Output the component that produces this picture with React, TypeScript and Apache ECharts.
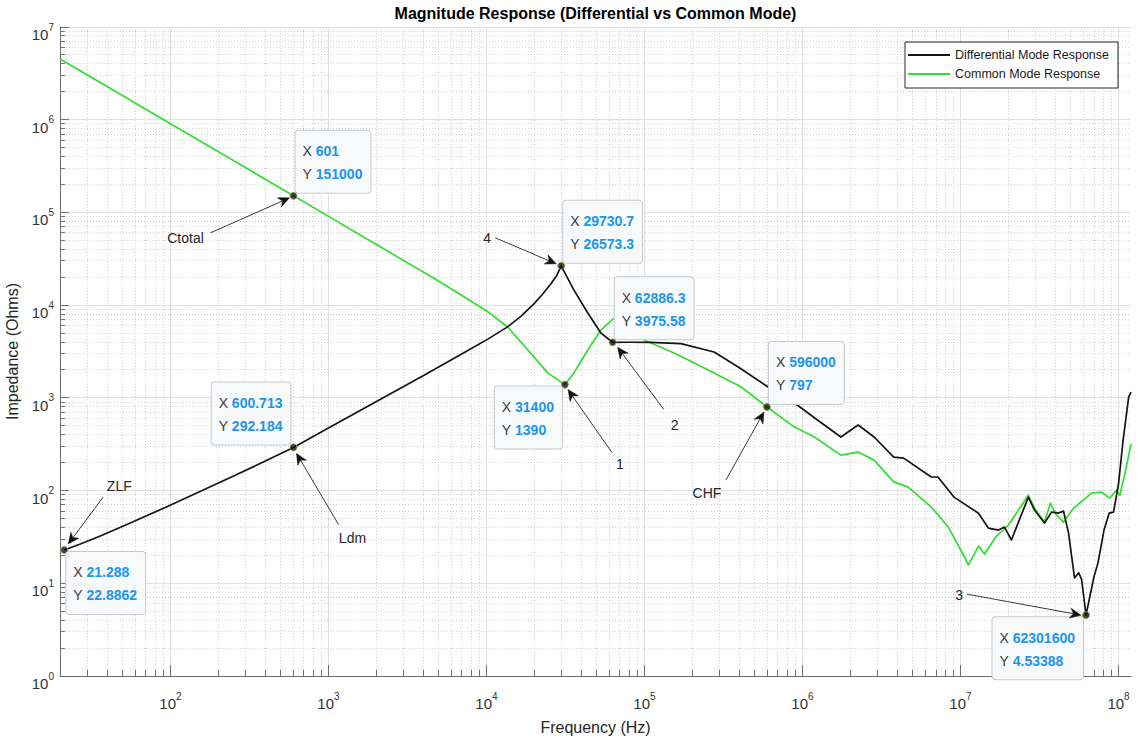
import React, { useEffect, useRef } from 'react';
import * as echarts from 'echarts';

const FONT = "'Liberation Sans', Arial, Helvetica, sans-serif";

// Differential mode response (black)
const DM_FREQ = [
  21.288, 26.9, 36.0, 55.7, 95.7, 155, 251, 372, 600.713, 1000, 2000, 4000, 7620,
  10200, 13600, 16500, 19900, 22500, 25600, 27800, 29730.7, 35700, 43800, 53000, 62886.3, 80000, 110000,
  170000, 276000, 392000, 607000, 890000, 1320000, 1750000, 2250000, 2840000,
  3780000, 4370000, 6530000, 7200000, 9100000, 13000000, 15000000, 17400000,
  19000000, 21000000, 26900000, 29400000, 34000000, 37700000, 41700000, 44900000,
  48300000, 52700000, 56000000, 58400000, 62301600, 69900000, 74100000, 81000000, 87300000,
  93000000, 100000000, 107000000, 116000000, 120000000,
];
const DM_Z = [
  22.8862, 26.5, 32.4, 44.6, 67.4, 98.3, 143.6, 197, 292.184, 472, 908, 1746, 3250,
  4300, 5830, 7570, 10260, 12950, 17000, 20800, 26573.3, 14600, 8220, 5000, 3975.58, 3980, 3960,
  3850, 3120, 2150, 1307, 879, 535, 378, 509, 378,
  230, 224, 140, 140, 85, 57, 39.4, 37.5,
  40.4, 29.3, 85, 61.6, 44.6, 58.6, 57.2, 60,
  34.8, 11.4, 13.0, 11.0, 4.53388, 11.7, 16.5, 37.5, 57.2,
  58.6, 117, 351, 1020, 1150,
];

// Common mode response (green)
const CM_FREQ = [
  20, 50, 100, 200, 601, 1000, 2000, 4650, 7000, 10200, 13600, 18300, 24500, 31400,
  35700, 43800, 53000, 64100, 72000, 85000, 99300, 154000, 253000, 410000, 596000,
  890000, 1190000, 1750000, 2250000, 2840000, 3780000, 4670000, 6530000, 8370000,
  10600000, 11200000, 13000000, 14200000, 16900000, 20100000, 26900000, 29400000,
  34000000, 37100000, 40500000, 44900000, 52000000, 67600000, 78200000, 87900000,
  97300000, 102000000, 111000000, 120000000,
];
const CM_Z = [
  4520000, 1810000, 907000, 453000, 151000, 90700, 45300, 19500, 12700, 8500, 5810, 3280, 1850, 1390,
  1850, 3280, 5390, 7260, 7300, 5500, 4210, 3040, 1995, 1310, 797,
  484, 378, 241, 260, 213, 124, 109, 66.4, 40.4,
  19.2, 15.7, 25.2, 20.7, 32.3, 42.5, 89, 64.7,
  45.7, 73.3, 54.4, 45.7, 64.7, 94, 96, 83,
  101, 89, 166, 320,
];

// Data tips
const TIP_X = [601, 29730.7, 62886.3, 31400, 596000, 600.713, 21.288, 62301600];
const TIP_Y = [151000, 26573.3, 3975.58, 1390, 797, 292.184, 22.8862, 4.53388];
const TIP_X_TEXT = ['601', '29730.7', '62886.3', '31400', '596000', '600.713', '21.288', '62301600'];
const TIP_Y_TEXT = ['151000', '26573.3', '3975.58', '1390', '797', '292.184', '22.8862', '4.53388'];
const TIP_SIDE = ['ur', 'ur', 'ur', 'dl', 'ur', 'ul', 'dr', 'dl'];

// Arrow annotations (one per tip, same order)
const NOTE_TEXT = ['Ctotal', '4', '2', '1', 'CHF', 'Ldm', 'ZLF', '3'];
const NOTE_TEXT_OFF = [[-108, 42], [-74, -28], [62, 83], [55, 79], [-60, 86], [59, 91], [55, -64], [-127, -20]];
const NOTE_TAIL_OFF = [[-83, 37], [-66, -28], [51, 67], [47, 68], [-41, 73], [45, 77], [39, -53], [-119, -21]];
const NOTE_HEAD_OFF = [[-4, 2], [-5, -2], [5, 5], [3, 5], [-3, 5], [3, 6], [4, -6], [-5, 0]];

const X_MIN = 20;
const X_MAX = 1.2e8;
const Y_MIN = 1;
const Y_MAX = 1e7;
const X_DECADES = [1, 2, 3, 4, 5, 6, 7, 8];
const Y_DECADES = [0, 1, 2, 3, 4, 5, 6, 7];
const MINOR_MULTS = [2, 3, 4, 5, 6, 7, 8, 9];

const TICK_COLOR = '#707070';
const LABEL_COLOR = '#333333';
const TIP_FONT_SIZE = 14;
const TIP_PAD = [9, 8, 7, 7];

function supLabel(v: number, lo: number, hi: number) {
  const e = Math.log10(v);
  const n = Math.round(e);
  if (Math.abs(e - n) > 1e-6 || v < lo || v > hi) return '';
  return `{b|10}{e|${n}}`;
}

const labelRich = {
  b: { fontSize: 15, lineHeight: 20, verticalAlign: 'bottom', color: LABEL_COLOR, fontFamily: FONT },
  e: { fontSize: 10, lineHeight: 8, verticalAlign: 'top', color: LABEL_COLOR, fontFamily: FONT },
};

function crisp(v: number) {
  return Math.round(v - 0.5) + 0.5;
}

const gridSeries = {
  type: 'custom',
  silent: true,
  z: 0,
  clip: false,
  data: [[X_MIN, Y_MIN]],
  renderItem: (params: any, api: any) => {
    const cs = params.coordSys;
    const top = cs.y;
    const bottom = cs.y + cs.height;
    const left = cs.x;
    const right = cs.x + cs.width;
    const children: any[] = [];
    const majorGrid = { stroke: '#e0e0e0', lineWidth: 1 };
    const minorGrid = { stroke: '#d2d2d2', lineWidth: 1, lineDash: [1, 2] };
    const tick = { stroke: TICK_COLOR, lineWidth: 1 };
    const vx = (f: number, major: boolean) => {
      const x = crisp(api.coord([f, Y_MIN])[0]);
      children.push({ type: 'line', shape: { x1: x, y1: top, x2: x, y2: bottom }, style: major ? majorGrid : minorGrid });
      children.push({ type: 'line', shape: { x1: x, y1: bottom, x2: x, y2: bottom - (major ? 11 : 6) }, style: tick });
    };
    const hy = (z: number, major: boolean) => {
      const y = crisp(api.coord([X_MIN, z])[1]);
      children.push({ type: 'line', shape: { x1: left, y1: y, x2: right, y2: y }, style: major ? majorGrid : minorGrid });
      children.push({ type: 'line', shape: { x1: left, y1: y, x2: left + (major ? 9 : 5), y2: y }, style: tick });
    };
    X_DECADES.forEach((k) => {
      const base = Math.pow(10, k);
      if (base > X_MIN && base <= X_MAX) vx(base, true);
      MINOR_MULTS.forEach((m) => {
        const f = m * base;
        if (f > X_MIN && f < X_MAX) vx(f, false);
      });
    });
    Y_DECADES.forEach((k) => {
      const base = Math.pow(10, k);
      if (base >= Y_MIN && base <= Y_MAX) hy(base, true);
      MINOR_MULTS.forEach((m) => {
        const z = m * base;
        if (z > Y_MIN && z < Y_MAX) hy(z, false);
      });
    });
    return { type: 'group', children };
  },
};

function arrowHead(tx: number, ty: number, sx: number, sy: number) {
  const dx = tx - sx;
  const dy = ty - sy;
  const len = Math.hypot(dx, dy) || 1;
  const ux = dx / len;
  const uy = dy / len;
  const nx = -uy;
  const ny = ux;
  const L = 11;
  const W = 5;
  const bx = tx - L * ux;
  const by = ty - L * uy;
  return {
    points: [
      [tx, ty],
      [bx + W * nx, by + W * ny],
      [tx - 0.7 * L * ux, ty - 0.7 * L * uy],
      [bx - W * nx, by - W * ny],
    ],
    base: [tx - 0.7 * L * ux, ty - 0.7 * L * uy],
  };
}

function makeMeasurer() {
  const canvas = document.createElement('canvas');
  const ctx = canvas.getContext('2d');
  return (text: string, bold: boolean) => {
    if (!ctx) return text.length * TIP_FONT_SIZE * 0.56;
    ctx.font = `${bold ? 'bold ' : ''}${TIP_FONT_SIZE}px ${FONT}`;
    return ctx.measureText(text).width;
  };
}

export default function App() {
  const ref = useRef<HTMLDivElement>(null);

  useEffect(() => {
    if (!ref.current) return;
    const chart = echarts.init(ref.current, null, { renderer: 'svg' });
    const option: any = {
      animation: false,
      backgroundColor: '#ffffff',
      textStyle: { fontFamily: FONT },
      grid: { left: 60, top: 27, right: 15, bottom: 68, containLabel: false, outerBoundsMode: 'none' },
      legend: {
        data: ['Differential Mode Response', 'Common Mode Response'],
        orient: 'vertical',
        left: 905,
        top: 42,
        icon: 'rect',
        itemWidth: 42,
        itemHeight: 2,
        itemGap: 5,
        padding: [6, 9, 7, 3],
        borderColor: '#262626',
        borderWidth: 1,
        backgroundColor: '#ffffff',
        selectedMode: false,
        textStyle: { fontSize: 12.5, lineHeight: 14, color: '#1a1a1a', fontFamily: FONT },
      },
      xAxis: {
        type: 'log',
        logBase: 10,
        min: X_MIN,
        max: X_MAX,
        name: 'Frequency (Hz)',
        nameLocation: 'middle',
        nameGap: 43,
        nameTextStyle: { fontSize: 16, color: '#262626', fontFamily: FONT },
        axisLine: { show: true, onZero: false, lineStyle: { color: '#6a6a6a', width: 1 } },
        axisTick: { show: false },
        splitLine: { show: false },
        minorTick: { show: false },
        axisLabel: {
          interval: 0,
          margin: 15,
          formatter: (v: number) => supLabel(v, 50, 1.1e8),
          rich: labelRich,
        },
      },
      yAxis: {
        type: 'log',
        logBase: 10,
        min: Y_MIN,
        max: Y_MAX,
        name: 'Impedance (Ohms)',
        nameLocation: 'middle',
        nameGap: 33,
        nameTextStyle: { fontSize: 16, color: '#262626', fontFamily: FONT },
        axisLine: { show: true, onZero: false, lineStyle: { color: '#6a6a6a', width: 1 } },
        axisTick: { show: false },
        splitLine: { show: false },
        minorTick: { show: false },
        axisLabel: {
          interval: 0,
          margin: 6,
          padding: [10, 0, 0, 0],
          formatter: (v: number) => supLabel(v, 0.5, 2e7),
          rich: labelRich,
        },
      },
      series: [
        gridSeries,
        {
          name: 'Differential Mode Response',
          type: 'line',
          data: DM_FREQ.map((f, i) => [f, DM_Z[i]]),
          showSymbol: false,
          symbol: 'none',
          lineStyle: { color: '#141414', width: 1.7, join: 'round' },
          itemStyle: { color: '#141414' },
          z: 3,
        },
        {
          name: 'Common Mode Response',
          type: 'line',
          data: CM_FREQ.map((f, i) => [f, CM_Z[i]]),
          showSymbol: false,
          symbol: 'none',
          lineStyle: { color: '#2fdf2f', width: 1.7, join: 'round' },
          itemStyle: { color: '#2fdf2f' },
          z: 2,
        },
        {
          name: 'tips',
          type: 'scatter',
          data: TIP_X.map((x, i) => [x, TIP_Y[i]]),
          symbolSize: 7,
          itemStyle: { color: '#111111', borderColor: '#9a9a55', borderWidth: 1 },
          silent: true,
          z: 6,
        },
      ],
    };
    chart.setOption(option);

    const measure = makeMeasurer();
    const elements: any[] = [];
    const gridRect = { left: 60, right: 1146 - 15 };
    elements.push({
      type: 'text',
      x: (gridRect.left + gridRect.right) / 2,
      y: 13,
      z: 60,
      style: {
        text: 'Magnitude Response (Differential vs Common Mode)',
        fontSize: 16,
        fontWeight: 'bold',
        fontFamily: FONT,
        fill: '#000000',
        align: 'center',
        verticalAlign: 'middle',
      },
    });

    TIP_X.forEach((tx, i) => {
      const p = chart.convertToPixel({ xAxisIndex: 0, yAxisIndex: 0 }, [tx, TIP_Y[i]]) as number[];
      const px = p[0];
      const py = p[1];
      const side = TIP_SIDE[i];
      const up = side[0] === 'u';
      const rightSide = side[1] === 'r';
      const w1 = measure('X ', false) + measure(TIP_X_TEXT[i], true);
      const w2 = measure('Y ', false) + measure(TIP_Y_TEXT[i], true);
      const boxW = Math.max(w1, w2) + TIP_PAD[1] + TIP_PAD[3] + 2;
      elements.push({
        type: 'text',
        x: rightSide ? px + 2 : px - 1 - boxW,
        y: up ? py - 3 : py + 2,
        z: 50,
        style: {
          text: `{k|X} {v|${TIP_X_TEXT[i]}}\n{k|Y} {v|${TIP_Y_TEXT[i]}}`,
          align: 'left',
          verticalAlign: up ? 'bottom' : 'top',
          fontSize: TIP_FONT_SIZE,
          fontFamily: FONT,
          fill: '#3c3c3c',
          lineHeight: 23,
          rich: {
            k: { fill: '#3c3c3c', fontSize: TIP_FONT_SIZE, fontFamily: FONT, lineHeight: 23 },
            v: { fill: '#1a96ee', fontSize: TIP_FONT_SIZE, fontWeight: 'bold', fontFamily: FONT, lineHeight: 23 },
          },
          backgroundColor: '#f8f9fb',
          borderColor: '#c5c9cf',
          borderWidth: 1,
          borderRadius: 3,
          padding: TIP_PAD,
        },
      });

      const to = NOTE_TEXT_OFF[i];
      const tl = NOTE_TAIL_OFF[i];
      const hd = NOTE_HEAD_OFF[i];
      const sx = px + tl[0];
      const sy = py + tl[1];
      const hx = px + hd[0];
      const hy = py + hd[1];
      const head = arrowHead(hx, hy, sx, sy);
      elements.push({
        type: 'line',
        z: 51,
        shape: { x1: sx, y1: sy, x2: head.base[0], y2: head.base[1] },
        style: { stroke: '#3a3a3a', lineWidth: 1 },
      });
      elements.push({
        type: 'polygon',
        z: 52,
        shape: { points: head.points },
        style: { fill: '#111111', stroke: '#111111', lineWidth: 0.5 },
      });
      elements.push({
        type: 'text',
        x: px + to[0],
        y: py + to[1],
        z: 52,
        style: {
          text: NOTE_TEXT[i],
          fontSize: 14,
          fontFamily: FONT,
          fill: '#262626',
          align: 'center',
          verticalAlign: 'middle',
        },
      });
    });

    chart.setOption({ graphic: { elements } });

    return () => {
      chart.dispose();
    };
  }, []);

  return (
    <div
      ref={ref}
      style={{ position: 'absolute', left: 0, top: 0, width: 1146, height: 744, background: '#ffffff' }}
    />
  );
}
